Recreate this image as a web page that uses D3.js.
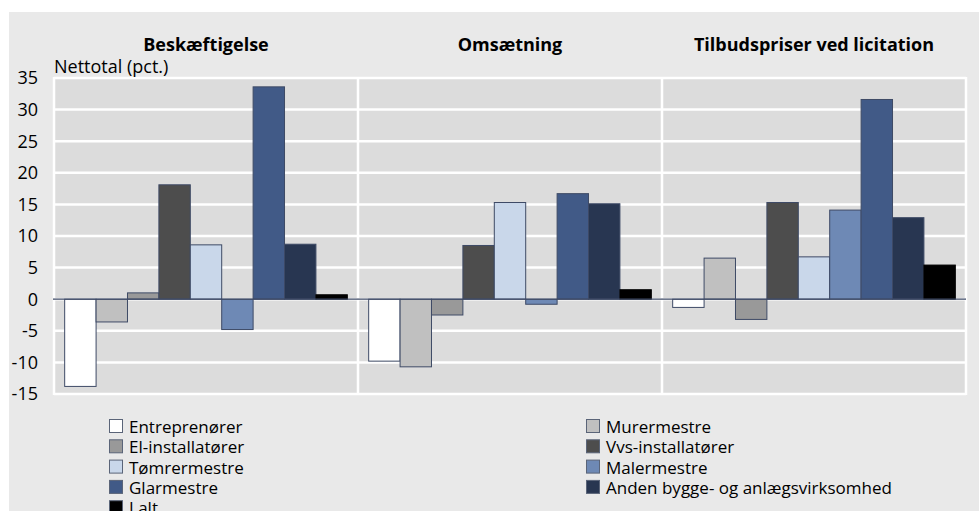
<!DOCTYPE html>
<html>
<head>
<meta charset="utf-8">
<script src="https://cdn.jsdelivr.net/npm/d3@7"></script>
<style>
  body { margin: 0; background: #fff; }
  svg { display: block; font-family: "Open Sans", sans-serif; }
</style>
</head>
<body>
<svg id="chart" width="979" height="511"></svg>
<script>
// panels (groups) and the series inside each
var groups = ["Beskæftigelse", "Omsætning", "Tilbudspriser ved licitation"];
var series = ["Entreprenører", "Murermestre", "El-installatører", "Vvs-installatører",
              "Tømrermestre", "Malermestre", "Glarmestre", "Anden bygge- og anlægsvirksomhed", "I alt"];
var colors = ["#ffffff", "#c0c0c0", "#999999", "#4d4d4d", "#c9d7ea", "#6e89b5", "#415a87", "#283651", "#000000"];

// values per group, in series order
var beskaeftigelse = [-13.8, -3.6, 1.0, 18.1, 8.6, -4.8, 33.6, 8.7, 0.7];
var omsaetning     = [-9.8, -10.7, -2.5, 8.5, 15.3, -0.8, 16.7, 15.1, 1.5];
var tilbudspriser  = [-1.3, 6.5, -3.2, 15.3, 6.7, 14.1, 31.6, 12.9, 5.4];
var values = [beskaeftigelse, omsaetning, tilbudspriser];

var yTicks = [-15, -10, -5, 0, 5, 10, 15, 20, 25, 30, 35];
var yLabel = "Nettotal (pct.)";

var svg = d3.select("#chart");
var width = 979, height = 511;
var pLeft = 54, pRight = 966, pTop = 78, pBottom = 394;

svg.append("rect").attr("x", 9).attr("y", 12)
  .attr("width", width - 9).attr("height", height - 12).attr("fill", "#e9e9e9");

var y = d3.scaleLinear().domain([-15, 35]).range([pBottom, pTop]);
var x0 = d3.scaleBand().domain(groups).range([pLeft, pRight]);
var x1 = d3.scaleBand().domain(series).range([0, x0.bandwidth()])
  .paddingInner(0).paddingOuter(0.34);

// plot background
svg.append("rect").attr("x", pLeft).attr("y", pTop)
  .attr("width", pRight - pLeft).attr("height", pBottom - pTop).attr("fill", "#dcdcdc");

// horizontal grid
svg.append("g").selectAll("line").data(yTicks).join("line")
  .attr("x1", pLeft).attr("x2", pRight)
  .attr("y1", function(d) { return y(d); }).attr("y2", function(d) { return y(d); })
  .attr("stroke", "#fff").attr("stroke-width", 2.5);

// vertical panel separators
svg.append("g").selectAll("line").data(groups.concat(["end"])).join("line")
  .attr("x1", function(d) { return d == "end" ? pRight : x0(d); })
  .attr("x2", function(d) { return d == "end" ? pRight : x0(d); })
  .attr("y1", pTop - 1).attr("y2", pBottom + 1)
  .attr("stroke", "#fff").attr("stroke-width", 2.5);

// y tick labels
svg.append("g").selectAll("text").data(yTicks).join("text")
  .attr("x", 38).attr("y", function(d) { return y(d); })
  .attr("dy", "0.35em").attr("text-anchor", "end")
  .attr("font-size", 18).attr("fill", "#000")
  .text(function(d) { return d; });

svg.append("text").attr("x", 54).attr("y", 73)
  .attr("font-size", 18).text(yLabel);

// group titles
svg.append("g").selectAll("text").data(groups).join("text")
  .attr("x", function(d) { return x0(d) + x0.bandwidth() / 2; })
  .attr("y", 51).attr("text-anchor", "middle")
  .attr("font-size", 18).attr("font-weight", "bold")
  .text(function(d) { return d; });

// bars
var panels = svg.append("g").selectAll("g").data(groups).join("g")
  .attr("transform", function(d) { return "translate(" + x0(d) + ",0)"; });

panels.selectAll("rect")
  .data(function(d, i) { return values[i].map(function(v, j) { return {s: series[j], v: v, c: colors[j]}; }); })
  .join("rect")
  .attr("x", function(d) { return x1(d.s); })
  .attr("y", function(d) { return y(Math.max(0, d.v)); })
  .attr("width", x1.bandwidth())
  .attr("height", function(d) { return Math.abs(y(d.v) - y(0)); })
  .attr("fill", function(d) { return d.c; })
  .attr("stroke", function(d) { return d.c == "#000000" ? "#000" : "#3e4a66"; })
  .attr("stroke-width", 1);

// zero line
svg.append("line").attr("x1", pLeft - 1).attr("x2", pRight)
  .attr("y1", y(0)).attr("y2", y(0))
  .attr("stroke", "#3e4a66").attr("stroke-width", 1.2);

// legend: two columns, left takes even indexes
var legend = svg.append("g").selectAll("g").data(series).join("g")
  .attr("transform", function(d, i) {
    var col = i % 2, row = Math.floor(i / 2);
    return "translate(" + (col ? 586 : 109) + "," + (419 + row * 20.3) + ")";
  });
legend.append("rect").attr("x", 0.5).attr("y", 0.5).attr("width", 13).attr("height", 13)
  .attr("fill", function(d, i) { return colors[i]; })
  .attr("stroke", "#5a6478").attr("stroke-width", 1);
legend.append("text").attr("x", 20).attr("y", 14)
  .attr("font-size", 17).text(function(d) { return d; });
</script>
</body>
</html>
